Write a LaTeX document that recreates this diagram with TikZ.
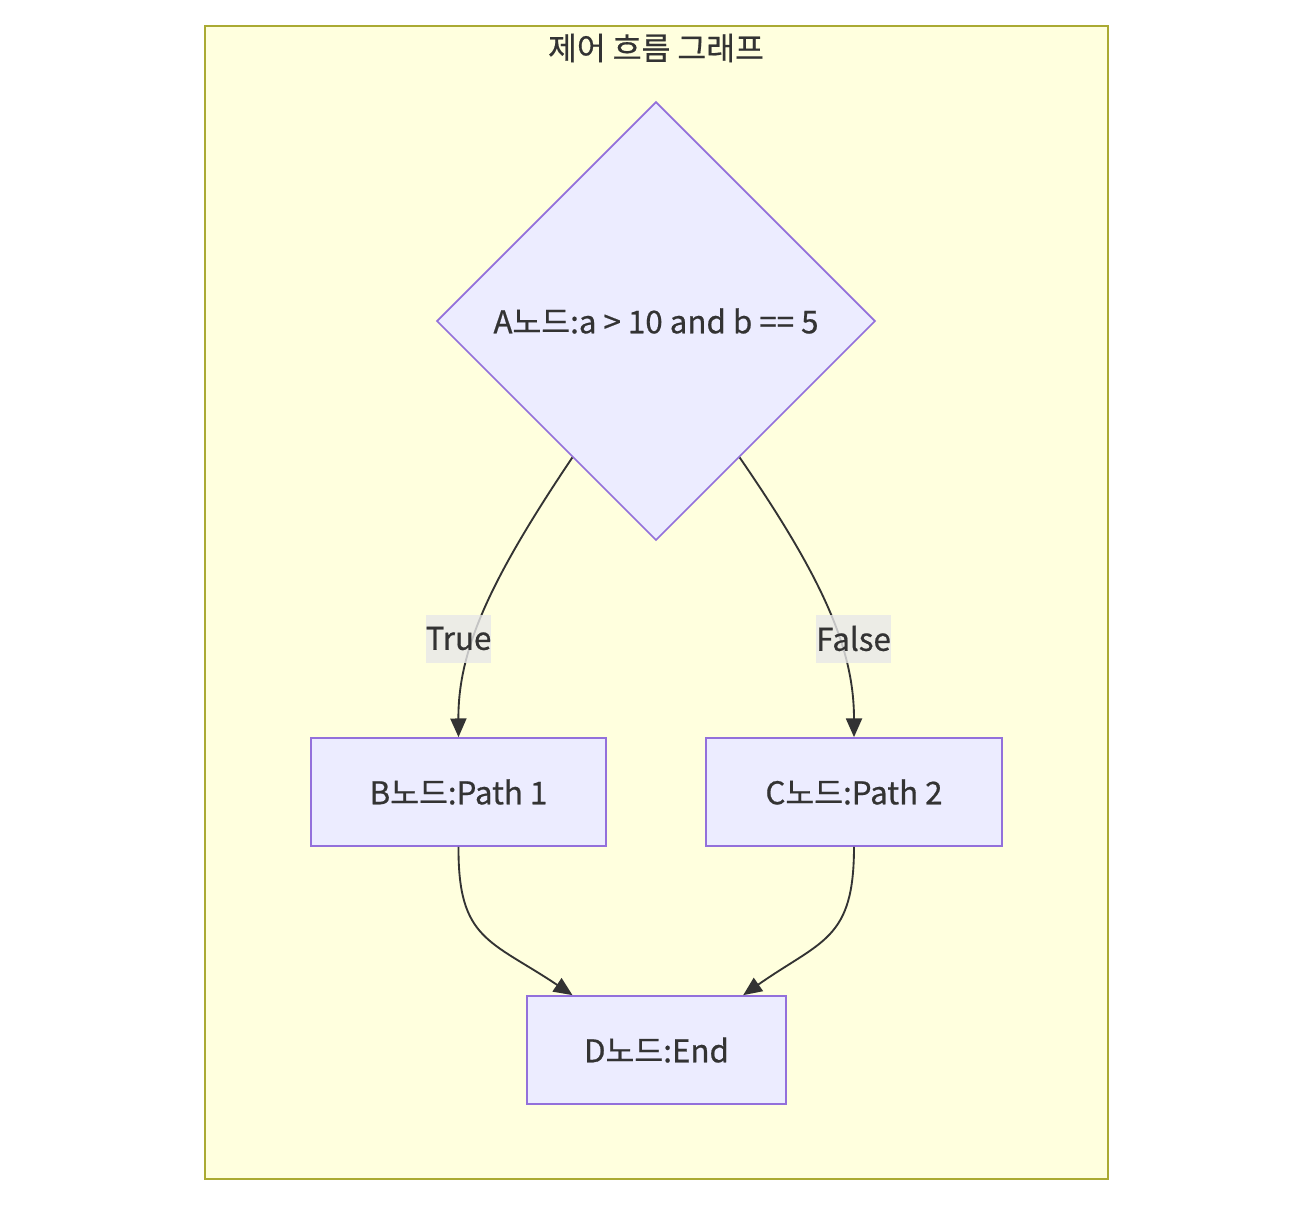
\documentclass[tikz,border=0pt]{standalone}
\usepackage{fontspec}
\setmainfont{Noto Sans CJK KR}[FakeBold=0.6]
\usetikzlibrary{shapes.geometric,arrows.meta,calc}
\definecolor{groupfill}{HTML}{FFFFDE}
\definecolor{groupline}{HTML}{AAAA33}
\definecolor{nodefill}{HTML}{ECECFF}
\definecolor{nodeline}{HTML}{9370DB}
\definecolor{ink}{HTML}{333333}
\definecolor{edgeink}{HTML}{333333}
\definecolor{labelbg}{HTML}{E8E8E8}
\tikzset{
  txt/.style={font=\fontsize{23.5pt}{28pt}\selectfont, text=ink},
  procbox/.style={txt, draw=nodeline, fill=nodefill, line width=1.3pt,
    minimum height=81pt, inner sep=0pt},
  decision/.style={txt, diamond, draw=nodeline, fill=nodefill, line width=1.3pt,
    minimum width=329pt, minimum height=329pt, inner sep=0pt},
  flow/.style={draw=edgeink, line width=1.4pt,
    -{Triangle[length=14pt,width=12pt]}},
  edgelabel/.style={txt, fill=labelbg, fill opacity=0.8, text opacity=1,
    inner xsep=0pt, minimum height=36pt}
}
\begin{document}
\begin{tikzpicture}[x=0.75pt,y=-0.75pt]
  \useasboundingbox (0,0) rectangle (1304,1208);
  % group container
  \draw[groupline, fill=groupfill, line width=1.3pt] (205,26) rectangle (1108,1179);
  \node[txt] (title) at (656,48) {제어 흐름 그래프};

  % nodes
  \node[decision] (A) at (656,321) {A노드:a > 10 and b == 5};
  \node[procbox, minimum width=221pt] (B) at (458.5,792) {B노드:Path 1};
  \node[procbox, minimum width=222pt] (C) at (854,792) {C노드:Path 2};
  \node[procbox, minimum width=194pt] (D) at (656.5,1050) {D노드:End};

  % connector end points
  \coordinate (a1) at ($(A.west)!0.62!(A.south)$);
  \coordinate (a2) at ($(A.east)!0.62!(A.south)$);
  \coordinate (d1) at ([xshift=-63pt]D.north);
  \coordinate (d2) at ([xshift=65pt]D.north);

  % connectors
  \draw[flow] (a1) .. controls (490,580) and (458,650) .. (B.north);
  \draw[flow] (a2) .. controls (824,580) and (854,650) .. (C.north);
  \draw[flow] (B.south) .. controls (458,940) and (490,940) .. (d1);
  \draw[flow] (C.south) .. controls (854,940) and (822,940) .. (d2);

  % edge labels
  \node[edgelabel] (lt) at (458.5,638.5) {True};
  \node[edgelabel] (lf) at (853.5,638.5) {False};
\end{tikzpicture}
\end{document}
